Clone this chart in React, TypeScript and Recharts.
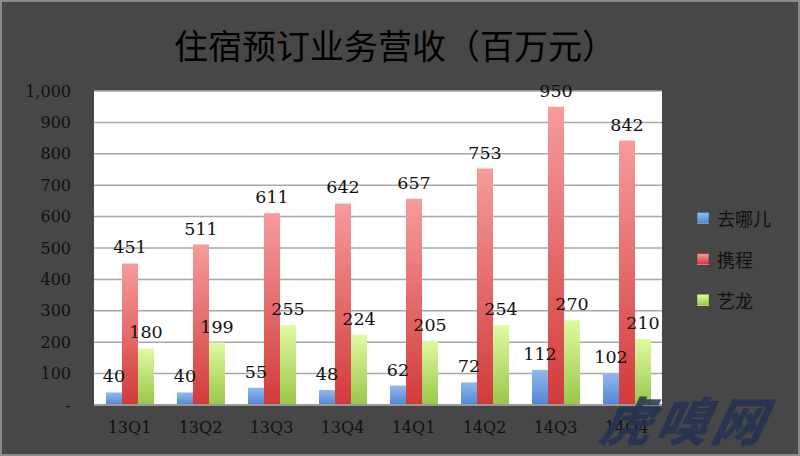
import { BarChart, Bar, XAxis, YAxis, CartesianGrid, LabelList } from 'recharts';

// quarters on the x axis
const quarters = ['13Q1', '13Q2', '13Q3', '13Q4', '14Q1', '14Q2', '14Q3', '14Q4'];

// revenue per company, million yuan
const qunar = [40, 40, 55, 48, 62, 72, 112, 102];
const ctrip = [451, 511, 611, 642, 657, 753, 950, 842];
const elong = [180, 199, 255, 224, 205, 254, 270, 210];

const yTicks = [0, 100, 200, 300, 400, 500, 600, 700, 800, 900, 1000];

const series = [
    { key: 'qunar', name: '去哪儿', top: '#93b9ec', bottom: '#4f86d6' },
    { key: 'ctrip', name: '携程', top: '#f79b9b', bottom: '#d23a3a' },
    { key: 'elong', name: '艺龙', top: '#dffaa3', bottom: '#98c748' },
];

const data = quarters.map((q, i) => ({
    quarter: q,
    qunar: qunar[i],
    ctrip: ctrip[i],
    elong: elong[i],
}));

const serif = '"DejaVu Serif", serif';
const cjk = '"Noto Sans CJK SC", sans-serif';

const formatY = (v: number) => (v === 0 ? '-' : v.toLocaleString('en-US'));

// legend at the right, squares with small gradient (overlay so it doesn't shrink the plot)
const LegendBox = () => (
    <div style={{ position: 'absolute', left: 695, top: 205, display: 'flex', flexDirection: 'column', gap: 19 }}>
        {series.map((s) => (
            <div key={s.key} style={{ display: 'flex', alignItems: 'center', height: 22 }}>
                <div
                    style={{
                        width: 10,
                        height: 10,
                        marginRight: 8,
                        background: `linear-gradient(${s.top}, ${s.bottom})`,
                        border: '1px solid rgba(0,0,0,0.15)',
                    }}
                />
                <span style={{ fontFamily: cjk, fontSize: 18, color: '#111' }}>{s.name}</span>
            </div>
        ))}
    </div>
);

const App = () => {
    return (
        <div
            style={{
                position: 'absolute',
                left: 0,
                top: 0,
                width: 800,
                height: 456,
                background: '#474747',
                border: '2px solid #8a8a8a',
                boxSizing: 'border-box',
                overflow: 'hidden',
            }}
        >
            <div
                style={{
                    position: 'absolute',
                    left: 0,
                    top: 20,
                    width: 786,
                    textAlign: 'center',
                    fontFamily: cjk,
                    fontSize: 34,
                    color: '#000',
                    lineHeight: '46px',
                }}
            >
                住宿预订业务营收（百万元）
            </div>
            <div style={{ position: 'absolute', left: -2, top: -2 }}>
                <BarChart
                    width={800}
                    height={456}
                    data={data}
                    margin={{ top: 91, right: 138, bottom: 21, left: 34 }}
                    barGap={0}
                    barSize={16}
                >
                    <defs>
                        {series.map((s) => (
                            <linearGradient key={s.key} id={`grad-${s.key}`} x1="0" y1="0" x2="0" y2="1">
                                <stop offset="0%" stopColor={s.top} />
                                <stop offset="100%" stopColor={s.bottom} />
                            </linearGradient>
                        ))}
                    </defs>
                    <CartesianGrid vertical={false} stroke="#a8a8a8" strokeWidth={1.5} fill="#ffffff" />
                    <XAxis
                        dataKey="quarter"
                        height={30}
                        tickLine={false}
                        tickSize={0}
                        tickMargin={17}
                        axisLine={{ stroke: '#9a9a9a', strokeWidth: 2 }}
                        tick={{ fontFamily: serif, fontSize: 16, fill: '#111' }}
                    />
                    <YAxis
                        width={60}
                        domain={[0, 1000]}
                        ticks={yTicks}
                        interval={0}
                        tickLine={false}
                        tickSize={0}
                        tickMargin={23}
                        axisLine={false}
                        tickFormatter={formatY}
                        tick={{ fontFamily: serif, fontSize: 16, fill: '#111' }}
                    />
                    {series.map((s) => (
                        <Bar
                            key={s.key}
                            dataKey={s.key}
                            name={s.name}
                            fill={`url(#grad-${s.key})`}
                            isAnimationActive={false}
                        >
                            <LabelList
                                dataKey={s.key}
                                position="top"
                                offset={10}
                                style={{ fontFamily: serif, fontSize: 17.5, fill: '#111' }}
                            />
                        </Bar>
                    ))}
                </BarChart>
            </div>
            <LegendBox />
            <div
                style={{
                    position: 'absolute',
                    left: 600,
                    top: 390,
                    fontFamily: cjk,
                    fontWeight: 900,
                    fontStyle: 'italic',
                    fontSize: 52,
                    letterSpacing: 4,
                    color: 'rgba(36, 50, 82, 0.85)',
                    transform: 'skewX(-12deg)',
                    lineHeight: '54px',
                    whiteSpace: 'nowrap',
                    pointerEvents: 'none',
                }}
            >
                虎嗅网
            </div>
        </div>
    );
};

export default App;
